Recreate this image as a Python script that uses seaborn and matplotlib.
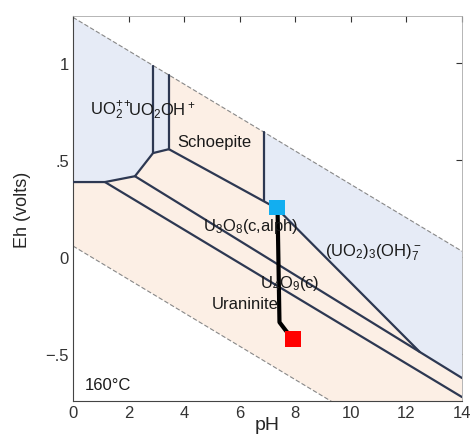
import matplotlib
matplotlib.use("Agg")
import matplotlib.pyplot as plt
import seaborn as sns

# -------------------------------
# Data (pH, Eh in volts)
# -------------------------------
# water stability limits
water_ph = [0, 14]
o2_eh = [1.233, 0.030]
h2_eh = [0.057, -1.146]

# field boundaries
bnd_uo2_ph = [0, 1.15, 2.23, 2.88, 3.45]
bnd_uo2_eh = [0.386, 0.386, 0.416, 0.535, 0.555]
vert1_ph, vert1_eh = [2.88, 2.88], [0.535, 0.985]
vert2_ph, vert2_eh = [3.45, 3.45], [0.555, 0.937]
vert3_ph, vert3_eh = [6.87, 6.87], [0.287, 0.643]
schoep_ph = [3.45, 7.34, 12.48]
schoep_eh = [0.555, 0.250, -0.488]
u3o8_ph, u3o8_eh = [2.23, 14], [0.416, -0.622]
u4o9_ph, u4o9_eh = [1.15, 14], [0.386, -0.720]

# aqueous (blue) fields
aq1_ph = [0, 1.15, 2.23, 2.88, 3.45, 3.45, 0]
aq1_eh = [0.386, 0.386, 0.416, 0.535, 0.555, 0.937, 1.233]
aq2_ph = [6.87, 6.87, 7.34, 12.48, 14, 14]
aq2_eh = [0.643, 0.287, 0.250, -0.488, -0.622, 0.030]

# reaction path
path_ph = [7.36, 7.43, 7.67, 7.91]
path_eh = [0.255, -0.335, -0.380, -0.420]
start_ph, start_eh = [7.34], [0.255]
end_ph, end_eh = [7.91], [-0.420]

labels = ["UO$_2^{++}$", "UO$_2$OH$^+$", "Schoepite", "U$_3$O$_8$(c,alph)",
          "U$_4$O$_9$(c)", "Uraninite", "(UO$_2$)$_3$(OH)$_7^-$", "160°C"]
label_ph = [0.6, 1.98, 3.75, 4.68, 6.73, 5.0, 9.06, 0.43]
label_eh = [0.76, 0.76, 0.596, 0.165, -0.13, -0.24, 0.03, -0.653]

# -------------------------------
# Plot
# -------------------------------
sns.set_style("white")
plt.rcParams['font.family'] = ['Liberation Sans', 'DejaVu Sans']
plt.rcParams['mathtext.fontset'] = 'custom'
plt.rcParams['mathtext.rm'] = 'Liberation Sans'
plt.rcParams['mathtext.it'] = 'Liberation Sans'

fig = plt.figure(figsize=(4.71, 4.39), dpi=100)
ax = fig.add_axes([0.155, 0.0843, 0.826, 0.877])

blue = "#e6ebf6"
peach = "#fcefe5"
edge = "#2d3852"

ax.fill_between(water_ph, h2_eh, o2_eh, color=peach, lw=0, zorder=0)
ax.fill(aq1_ph, aq1_eh, color=blue, lw=0, zorder=1)
ax.fill(aq2_ph, aq2_eh, color=blue, lw=0, zorder=1)

for wl in [o2_eh, h2_eh]:
    sns.lineplot(x=water_ph, y=wl, ax=ax, color="#888888", lw=0.8,
                 estimator=None, sort=False, zorder=2)
ax.lines[-1].set_dashes([4, 2])
ax.lines[-2].set_dashes([4, 2])

for xs, ys in [(bnd_uo2_ph, bnd_uo2_eh), (vert1_ph, vert1_eh), (vert2_ph, vert2_eh),
               (vert3_ph, vert3_eh), (schoep_ph, schoep_eh), (u3o8_ph, u3o8_eh),
               (u4o9_ph, u4o9_eh)]:
    sns.lineplot(x=xs, y=ys, ax=ax, color=edge, lw=1.6, estimator=None,
                 sort=False, zorder=3)

sns.lineplot(x=path_ph, y=path_eh, ax=ax, color="black", lw=3, estimator=None,
             sort=False, zorder=4)
sns.scatterplot(x=start_ph, y=start_eh, ax=ax, marker="s", s=130, color="#12aef0",
                edgecolor="none", zorder=5)
sns.scatterplot(x=end_ph, y=end_eh, ax=ax, marker="s", s=130, color="#ff0000",
                edgecolor="none", zorder=5)

for t, x, y in zip(labels, label_ph, label_eh):
    ax.text(x, y, t, fontsize=12, color="#1a1a1a", va="center", ha="left", zorder=6)

ax.set_xlim(0, 14)
ax.set_ylim(-0.74, 1.24)
ax.set_xticks([0, 2, 4, 6, 8, 10, 12, 14])
ax.set_yticks([-0.5, 0, 0.5, 1])
ax.set_yticklabels(["\u2212.5", "0", ".5", "1"])
ax.tick_params(direction="in", top=True, right=True, length=4, width=0.8,
               labelsize=12, colors="#333333", pad=3)
ax.set_xlabel("pH", fontsize=14, labelpad=-3)
ax.set_ylabel("Eh (volts)", fontsize=13, labelpad=10)
for side in ["left", "bottom"]:
    ax.spines[side].set_color("#444444")
    ax.spines[side].set_linewidth(0.8)
for side in ["top", "right"]:
    ax.spines[side].set_color("#aaaaaa")
    ax.spines[side].set_linewidth(0.6)

fig.savefig("out.png", dpi=100)
